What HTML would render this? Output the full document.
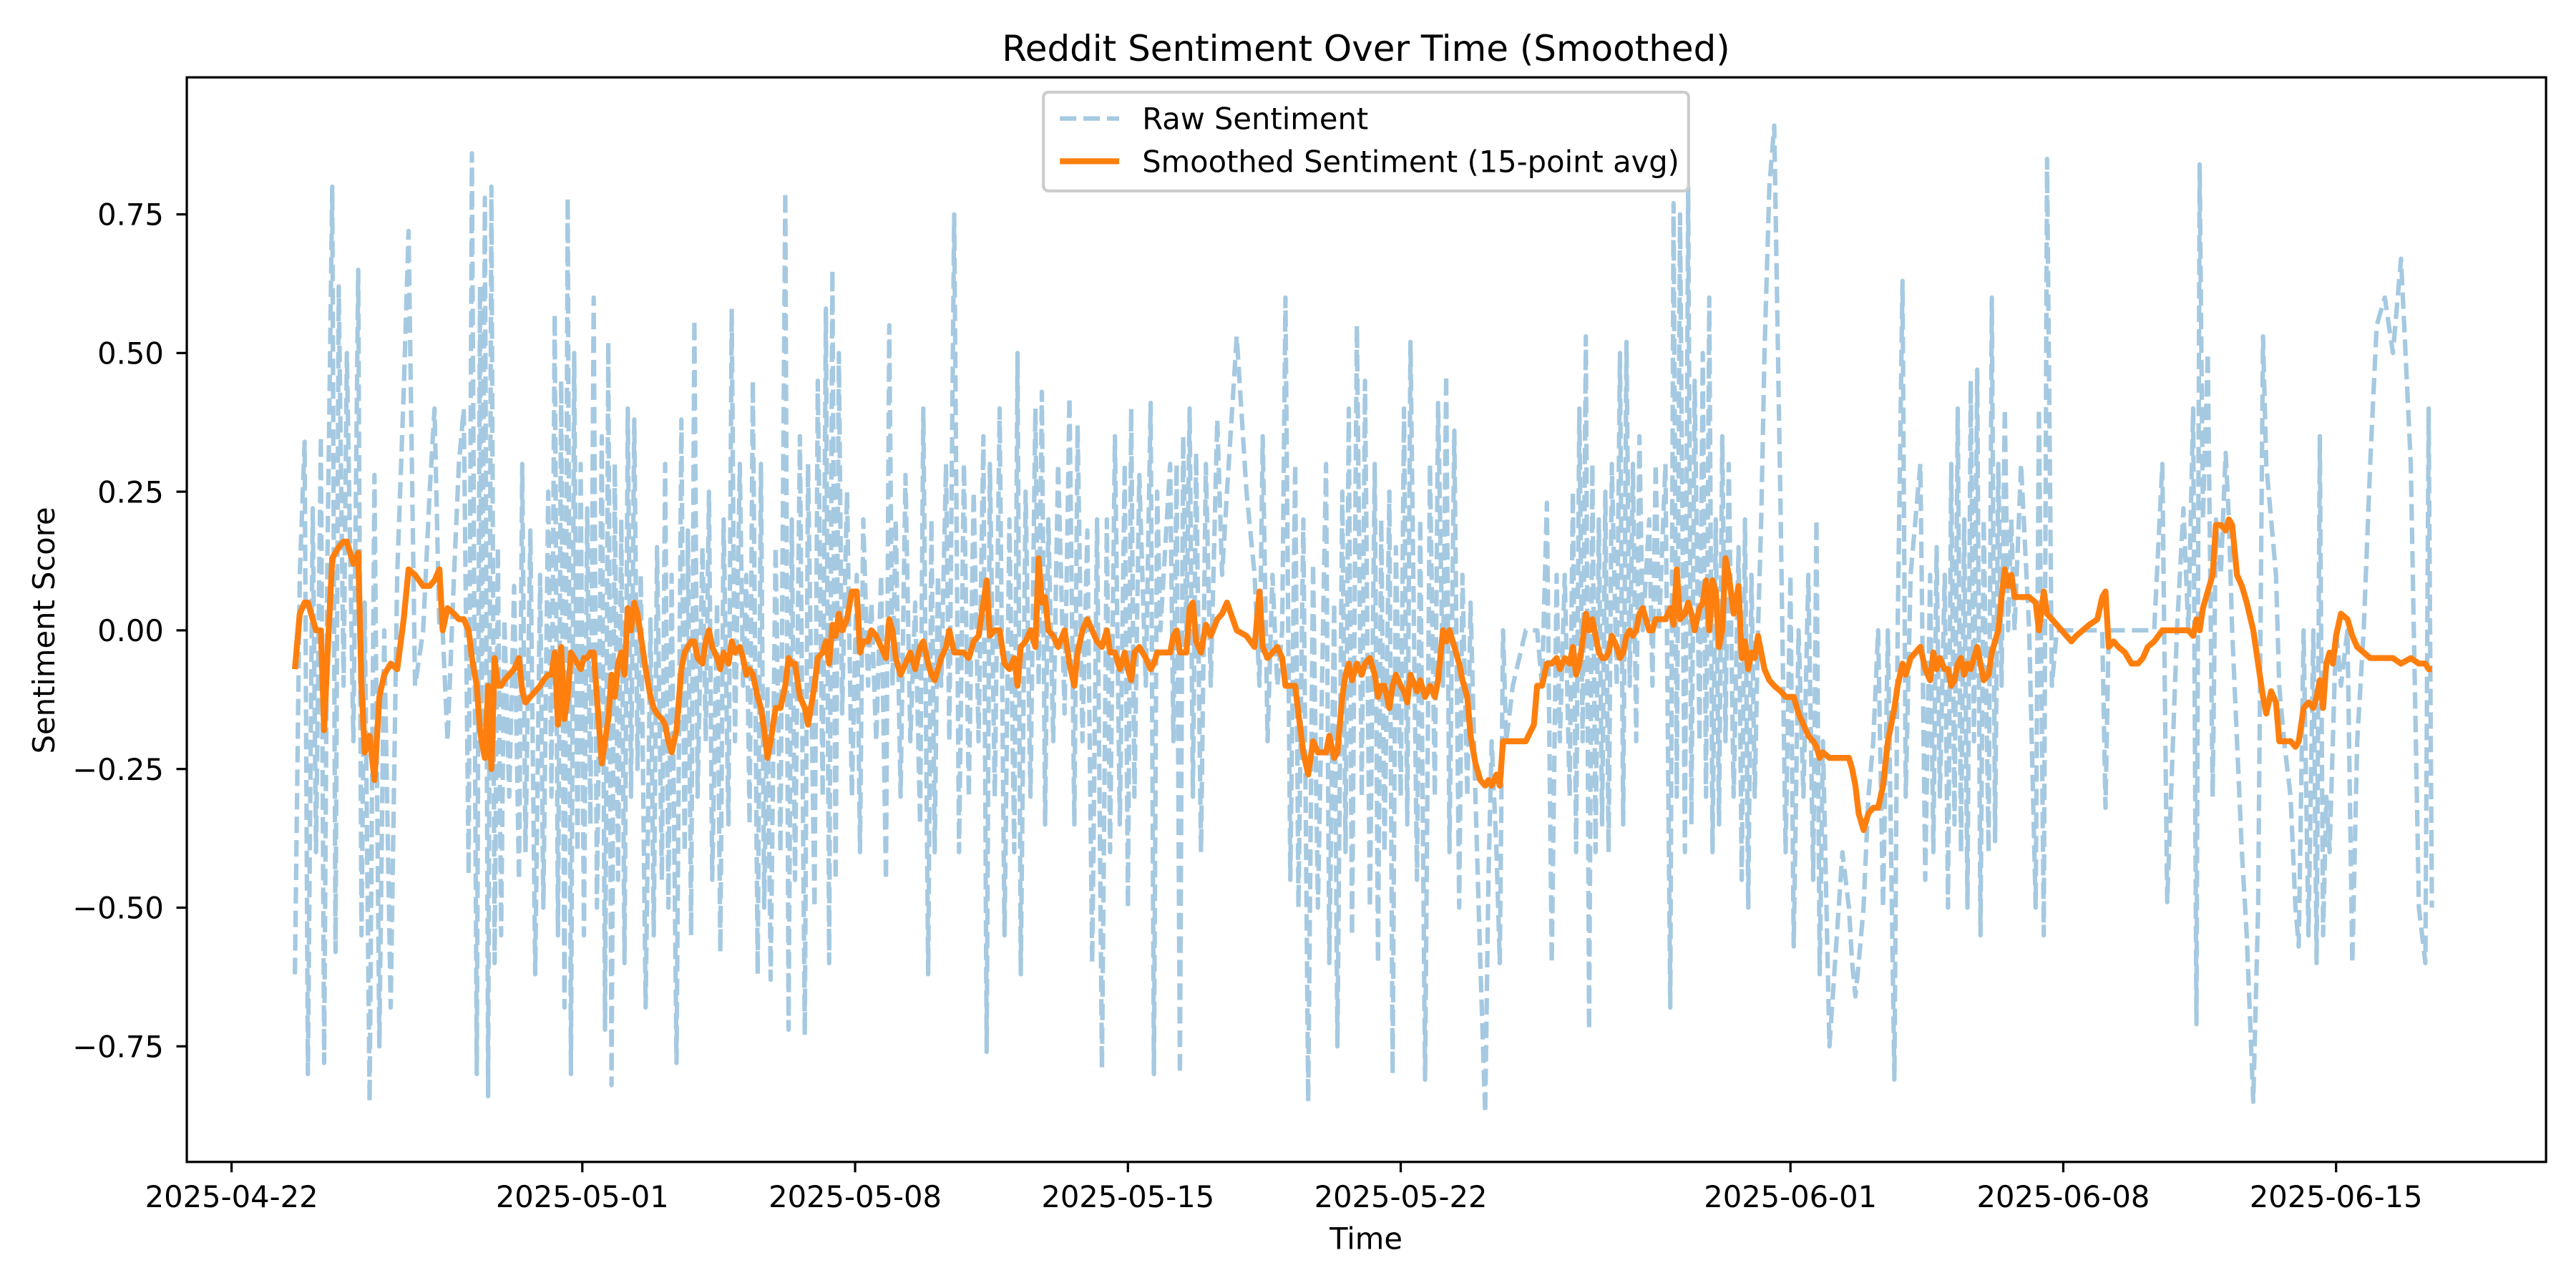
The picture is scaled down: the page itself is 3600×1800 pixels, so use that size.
<!DOCTYPE html>
<html><head><meta charset="utf-8"><style>
html,body{margin:0;padding:0;background:#fff;}
svg{display:block;font-family:"DejaVu Sans","Liberation Sans",sans-serif;}
</style></head><body>
<svg id="chart" width="3600" height="1800" viewBox="0 0 1565.2 782.6" xmlns="http://www.w3.org/2000/svg">
<rect x="0" y="0" width="1565.2" height="782.6" fill="#fff"/>
<text x="830" y="37" text-anchor="middle" font-size="21.7">Reddit Sentiment Over Time (Smoothed)</text>
<g id="plot"></g>
<g id="axes"></g>
<text x="830" y="759" text-anchor="middle" font-size="18.1">Time</text>
<text transform="translate(33,383) rotate(-90)" text-anchor="middle" font-size="18.1">Sentiment Score</text>
<g>
<rect x="634" y="56" width="392" height="60" rx="3" fill="#fff" fill-opacity="0.8" stroke="#cccccc" stroke-width="1.8"/>
<line x1="644" y1="72" x2="680" y2="72" stroke="#1f77b4" stroke-opacity="0.4" stroke-width="2.7" stroke-dasharray="10,4.3"/>
<text x="694" y="78.5" font-size="18.1">Raw Sentiment</text>
<line x1="644" y1="98" x2="680" y2="98" stroke="#ff7f0e" stroke-width="3.6"/>
<text x="694" y="104.5" font-size="18.1">Smoothed Sentiment (15-point avg)</text>
</g>
</svg>
<script>
// hours since 2025-04-22 00:00
const times = [39,42,45,47,50,52,55,57,59,62,64,66,69,71,75,78,80,82,85,88,91,94,98,102,106,109,113,118,122,125,128,130,133,137,140,143,146,148,151,153,154,156,158,160,162,164,166,168,171,174,177,179,181,184,187,190,192,195,197,199,201,203,205,207,209,211,213,215,217,219,221,223,225,228,230,232,234,236,238,240,242,244,246,248,250,252,255,258,260,262,265,267,269,271,274,277,279,281,283,285,287,290,292,294,296,299,301,303,306,308,310,313,315,317,319,321,324,326,328,330,332,335,338,341,343,345,347,350,353,355,359,361,364,366,368,370,372,374,376,379,382,385,387,389,392,394,397,400,403,405,407,409,412,415,418,421,424,426,429,431,433,435,437,440,442,445,448,451,454,457,460,463,465,467,470,473,476,479,482,484,486,489,492,495,497,499,501,503,506,509,513,516,519,521,524,527,530,533,536,539,541,544,547,550,552,554,556,559,563,566,568,570,572,578,580,582,584,586,588,590,592,594,597,600,603,607,610,613,619,625,630,633,635,638,641,644,647,649,652,655,657,660,663,666,669,674,676,679,681,684,686,688,690,693,696,698,701,704,706,708,710,713,715,717,720,722,724,726,730,732,735,738,741,743,746,748,750,753,756,758,761,763,766,769,772,774,776,779,781,783,785,789,797,802,804,807,810,813,816,818,821,824,826,828,830,832,834,836,838,840,842,844,846,848,850,853,855,857,859,861,863,865,867,869,873,875,877,879,883,886,888,890,892,895,897,899,901,904,906,908,910,912,914,916,918,920,922,925,928,930,932,934,936,938,940,942,944,947,950,954,957,960,962,965,968,971,974,976,978,980,984,992,996,998,1000,1002,1005,1008,1011,1014,1017,1020,1024,1026,1029,1031,1034,1037,1040,1043,1046,1048,1050,1052,1055,1057,1059,1061,1063,1065,1067,1069,1071,1073,1075,1077,1079,1082,1084,1086,1088,1090,1092,1094,1096,1098,1102,1107,1111,1113,1116,1118,1121,1124,1127,1130,1133,1136,1140,1144,1149,1152,1154,1156,1159,1162,1166,1170,1174,1177,1180,1184,1189,1192,1198,1202,1205,1208,1210,1212,1214,1217,1220,1222,1225,1228,1230,1232,1235,1238,1241,1245,1248,1251,1253,1256,1259,1261,1264,1268,1271,1273,1276,1279,1282,1284,1286,1288,1290,1292,1294,1296,1299,1303,1306,1309,1313,1317,1321,1326,1331,1336,1342,1347,1351,1353,1355];
const smoothVals = [-0.07,0.03,0.05,0.05,0.02,0.0,0.0,-0.18,-0.05,0.13,0.14,0.15,0.16,0.16,0.12,0.14,-0.10,-0.22,-0.19,-0.27,-0.12,-0.08,-0.06,-0.07,0.02,0.11,0.10,0.08,0.08,0.09,0.11,0.0,0.04,0.03,0.02,0.02,0.0,-0.05,-0.10,-0.18,-0.20,-0.23,-0.10,-0.25,-0.05,-0.10,-0.10,-0.09,-0.08,-0.07,-0.05,-0.11,-0.13,-0.12,-0.11,-0.10,-0.09,-0.08,-0.08,-0.04,-0.17,-0.03,-0.16,-0.12,-0.04,-0.05,-0.06,-0.07,-0.05,-0.05,-0.04,-0.04,-0.12,-0.24,-0.20,-0.16,-0.08,-0.12,-0.06,-0.04,-0.08,0.04,0.0,0.05,0.03,-0.01,-0.07,-0.12,-0.14,-0.15,-0.16,-0.17,-0.20,-0.22,-0.18,-0.07,-0.04,-0.03,-0.02,-0.02,-0.05,-0.06,-0.02,0.0,-0.03,-0.05,-0.07,-0.04,-0.06,-0.02,-0.04,-0.03,-0.05,-0.08,-0.07,-0.08,-0.12,-0.14,-0.18,-0.23,-0.20,-0.14,-0.14,-0.10,-0.05,-0.06,-0.06,-0.12,-0.14,-0.17,-0.10,-0.05,-0.04,-0.02,-0.06,0.01,-0.01,0.03,0.0,0.02,0.07,0.07,-0.04,-0.02,-0.02,0.0,-0.01,-0.03,-0.05,0.02,0.0,-0.05,-0.08,-0.06,-0.04,-0.07,-0.03,-0.02,-0.06,-0.08,-0.09,-0.07,-0.05,-0.03,0.0,-0.04,-0.04,-0.04,-0.05,-0.02,-0.01,0.05,0.09,-0.01,0.0,0.0,-0.06,-0.07,-0.05,-0.10,-0.03,-0.02,0.0,-0.03,0.13,0.05,0.06,0.0,-0.01,-0.03,0.0,-0.06,-0.10,-0.04,0.0,0.02,0.0,-0.02,-0.03,0.0,-0.04,-0.04,-0.07,-0.04,-0.07,-0.09,-0.04,-0.03,-0.05,-0.07,-0.06,-0.04,-0.04,-0.04,-0.01,0.0,-0.04,-0.04,-0.04,0.04,0.05,-0.02,-0.04,0.01,-0.01,0.02,0.03,0.05,0.0,-0.01,-0.03,0.07,-0.03,-0.05,-0.04,-0.03,-0.05,-0.10,-0.10,-0.10,-0.15,-0.22,-0.26,-0.20,-0.22,-0.22,-0.19,-0.23,-0.22,-0.12,-0.08,-0.06,-0.09,-0.06,-0.08,-0.06,-0.05,-0.08,-0.12,-0.10,-0.10,-0.14,-0.10,-0.08,-0.10,-0.11,-0.13,-0.08,-0.11,-0.09,-0.12,-0.10,-0.12,-0.09,0.0,-0.02,0.0,-0.03,-0.06,-0.09,-0.12,-0.19,-0.24,-0.27,-0.28,-0.27,-0.28,-0.26,-0.28,-0.20,-0.20,-0.20,-0.20,-0.17,-0.10,-0.10,-0.06,-0.06,-0.05,-0.07,-0.05,-0.06,-0.03,-0.08,-0.06,-0.02,0.03,0.0,0.02,-0.01,-0.04,-0.05,-0.05,-0.04,-0.01,-0.03,-0.05,-0.04,-0.01,0.0,-0.01,0.0,0.03,0.04,0.0,0.0,0.02,0.02,0.02,0.04,0.01,0.11,0.02,0.03,0.05,0.03,0.0,0.04,0.05,0.09,0.0,0.09,0.07,-0.03,0.0,0.13,0.10,0.03,0.08,-0.05,-0.02,-0.07,-0.04,-0.05,-0.01,-0.04,-0.07,-0.09,-0.10,-0.11,-0.12,-0.12,-0.12,-0.15,-0.17,-0.19,-0.20,-0.21,-0.23,-0.22,-0.23,-0.23,-0.23,-0.25,-0.28,-0.33,-0.36,-0.33,-0.32,-0.32,-0.28,-0.20,-0.14,-0.10,-0.06,-0.08,-0.05,-0.04,-0.03,-0.07,-0.09,-0.04,-0.07,-0.05,-0.07,-0.07,-0.10,-0.09,-0.06,-0.05,-0.08,-0.06,-0.07,-0.05,-0.03,-0.06,-0.09,-0.08,-0.04,-0.02,0.0,0.06,0.11,0.08,0.10,0.06,0.06,0.06,0.05,0.0,0.07,0.03,0.02,0.01,0.0,-0.01,-0.02,-0.01,0.0,0.01,0.02,0.06,0.07,-0.03,-0.02,-0.03,-0.04,-0.06,-0.06,-0.05,-0.03,-0.02,0.0,0.0,0.0,0.0,0.0,-0.01,0.02,0.0,0.04,0.07,0.10,0.19,0.19,0.18,0.20,0.19,0.10,0.08,0.05,0.0,-0.06,-0.12,-0.15,-0.11,-0.13,-0.20,-0.20,-0.20,-0.21,-0.20,-0.14,-0.13,-0.14,-0.12,-0.09,-0.14,-0.06,-0.04,-0.06,-0.01,0.03,0.02,-0.01,-0.03,-0.04,-0.05,-0.05,-0.05,-0.05,-0.06,-0.05,-0.06,-0.06,-0.07,-0.07];
const rawVals = [-0.62,0.10,0.34,-0.80,0.22,-0.40,0.35,-0.78,0.12,0.80,-0.58,0.62,-0.10,0.50,-0.20,0.65,-0.55,0.05,-0.85,0.28,-0.75,0.0,-0.68,0.10,0.43,0.72,-0.10,0.0,0.25,0.40,0.0,0.0,-0.20,0.10,0.30,0.40,-0.44,0.86,-0.80,0.62,-0.20,0.78,-0.84,0.80,-0.60,0.15,-0.55,0.02,-0.30,0.08,-0.45,0.30,-0.40,0.18,-0.62,0.10,-0.50,0.25,-0.30,0.57,-0.55,0.45,-0.68,0.78,-0.80,0.50,-0.40,0.30,-0.55,0.22,-0.35,0.60,-0.50,0.35,-0.72,0.52,-0.82,0.30,-0.45,0.20,-0.60,0.40,-0.30,0.38,-0.25,0.10,-0.68,0.02,-0.55,0.15,-0.45,0.30,-0.50,0.10,-0.78,0.38,-0.40,0.18,-0.55,0.56,-0.30,0.15,-0.20,0.25,-0.45,0.05,-0.58,0.20,-0.35,0.58,-0.20,0.30,-0.10,0.10,-0.35,0.45,-0.62,0.30,-0.50,-0.10,-0.63,0.15,-0.40,0.79,-0.72,0.20,-0.45,0.35,-0.73,0.30,-0.50,0.45,-0.30,0.58,-0.60,0.65,-0.45,0.50,-0.15,0.25,-0.30,0.10,-0.40,0.20,-0.10,0.05,-0.20,0.10,-0.45,0.55,-0.10,0.20,-0.30,0.28,-0.20,0.05,-0.35,0.40,-0.62,0.20,-0.40,0.10,-0.10,0.30,-0.20,0.75,-0.40,0.30,-0.30,0.25,-0.20,0.35,-0.76,0.30,-0.30,0.40,-0.55,0.20,-0.40,0.50,-0.62,0.25,-0.30,0.40,-0.10,0.43,-0.35,0.20,-0.20,0.30,-0.15,0.42,-0.35,0.37,-0.20,0.18,-0.60,0.20,-0.79,0.20,-0.40,0.35,-0.35,0.30,-0.50,0.40,-0.30,0.28,-0.10,0.41,-0.80,0.25,0.0,0.30,-0.20,0.30,-0.80,0.35,0.0,0.40,-0.30,0.32,-0.40,0.30,-0.10,0.38,0.10,0.25,0.53,0.25,0.10,-0.10,0.35,-0.20,0.10,-0.10,0.0,0.60,-0.45,0.30,-0.50,0.20,-0.85,0.12,-0.50,0.30,-0.60,0.05,-0.75,0.25,-0.40,0.40,-0.55,0.55,-0.30,0.45,-0.50,0.30,-0.60,0.20,-0.40,0.25,-0.80,0.15,-0.30,0.40,-0.35,0.52,-0.45,0.20,-0.81,0.30,-0.30,0.41,-0.10,0.46,-0.40,0.36,-0.50,0.10,-0.30,0.05,-0.30,-0.60,-0.87,-0.45,-0.20,-0.40,-0.60,0.0,-0.20,-0.10,0.0,0.0,0.0,-0.10,0.23,-0.60,0.10,-0.20,0.10,-0.30,0.25,-0.40,0.40,-0.20,0.53,-0.72,0.30,-0.40,0.20,-0.35,0.25,-0.40,0.30,-0.10,0.50,-0.35,0.52,-0.10,0.30,-0.20,0.35,0.0,0.20,-0.10,0.30,0.0,0.30,-0.68,0.77,-0.30,0.75,-0.40,0.80,-0.35,0.45,-0.20,0.50,-0.30,0.60,-0.40,0.20,-0.35,0.35,-0.20,0.30,-0.30,0.15,-0.45,0.20,-0.50,0.10,-0.30,0.0,0.20,0.50,0.80,0.91,0.20,-0.40,0.10,-0.57,0.0,-0.30,0.10,-0.45,0.20,-0.62,-0.20,-0.75,-0.40,-0.50,-0.60,-0.66,-0.60,-0.50,-0.30,-0.20,0.0,-0.50,0.0,-0.81,0.0,0.63,-0.30,0.10,0.20,0.30,-0.45,0.10,-0.40,0.15,-0.30,0.10,-0.50,0.30,-0.35,0.40,-0.40,0.20,-0.50,0.45,-0.20,0.47,-0.55,0.20,-0.40,0.60,-0.38,0.30,-0.10,0.40,0.0,0.20,0.0,0.30,0.0,-0.50,0.40,-0.55,0.85,-0.10,0.0,0.0,0.0,0.0,0.0,0.0,0.0,0.0,0.0,-0.32,0.0,0.0,0.0,0.0,0.0,0.0,0.0,0.0,0.0,0.30,-0.49,0.0,0.22,0.0,0.40,-0.71,0.84,0.20,0.50,-0.30,0.20,0.10,0.32,0.20,0.0,-0.20,-0.40,-0.55,-0.85,-0.50,0.53,0.30,0.20,0.10,-0.10,-0.20,-0.30,-0.50,-0.57,0.0,-0.55,0.0,-0.60,0.35,-0.55,-0.30,-0.40,-0.20,0.0,-0.10,0.0,-0.60,-0.20,0.0,0.30,0.55,0.60,0.50,0.67,0.30,-0.50,-0.60,0.40,-0.50];
const xTickDays = [0,9,16,23,30,40,47,54];
const xTickLabels = ["2025-04-22","2025-05-01","2025-05-08","2025-05-15","2025-05-22","2025-06-01","2025-06-08","2025-06-15"];
const yTickVals = [-0.75,-0.5,-0.25,0,0.25,0.5,0.75];
const yTickLabels = ["\u22120.75","\u22120.50","\u22120.25","0.00","0.25","0.50","0.75"];

const NS = "http://www.w3.org/2000/svg";
const L = 113.5, R = 1547, T = 47, B = 706;
const X0 = 140.7, PX_PER_DAY = 23.68, Y0 = 383, PX_PER_UNIT = 337;
function xDay(d){ return X0 + d * PX_PER_DAY; }
function xHour(h){ return xDay(h / 24); }
function yVal(v){ return Y0 - v * PX_PER_UNIT; }

const plot = document.getElementById('plot');
const axes = document.getElementById('axes');

function mk(tag, attrs){ const e = document.createElementNS(NS, tag); for (const k in attrs) e.setAttribute(k, attrs[k]); return e; }

let dRaw = '', dSm = '';
for (let i = 0; i < times.length; i++) {
  dRaw += (i ? 'L' : 'M') + xHour(times[i]).toFixed(2) + ' ' + yVal(rawVals[i]).toFixed(2);
  dSm += (i ? 'L' : 'M') + xHour(times[i]).toFixed(2) + ' ' + yVal(smoothVals[i]).toFixed(2);
}
const rawPath = mk('path', {d: dRaw, fill: 'none', stroke: '#1f77b4', 'stroke-opacity': '0.4', 'stroke-width': '2.7', 'stroke-dasharray': '10,4.3', 'stroke-linejoin': 'round'});


plot.appendChild(rawPath);
const smPath = mk('path', {d: dSm, fill: 'none', stroke: '#ff7f0e', 'stroke-width': '3.6', 'stroke-linejoin': 'round'});


plot.appendChild(smPath);

const frame = mk('rect', {x: L, y: T, width: R - L, height: B - T, fill: 'none', stroke: '#000', 'stroke-width': '1.4'});


axes.appendChild(frame);

for (let i = 0; i < xTickDays.length; i++) {
  const x = xDay(xTickDays[i]);
  const tk = mk('line', {x1: x, y1: B, x2: x, y2: B + 6.3, stroke: '#000', 'stroke-width': '1.4'});
  
  
  axes.appendChild(tk);
  const tx = mk('text', {x: x, y: 733.5, 'text-anchor': 'middle', 'font-size': '18.1'});
  tx.textContent = xTickLabels[i];
  
  
  axes.appendChild(tx);
}
for (let i = 0; i < yTickVals.length; i++) {
  const y = yVal(yTickVals[i]);
  const tk = mk('line', {x1: L - 6.3, y1: y, x2: L, y2: y, stroke: '#000', 'stroke-width': '1.4'});
  
  
  axes.appendChild(tk);
  const tx = mk('text', {x: 99.5, y: y + 6.6, 'text-anchor': 'end', 'font-size': '18.1'});
  tx.textContent = yTickLabels[i];
  
  
  axes.appendChild(tx);
}
</script>
</body></html>
